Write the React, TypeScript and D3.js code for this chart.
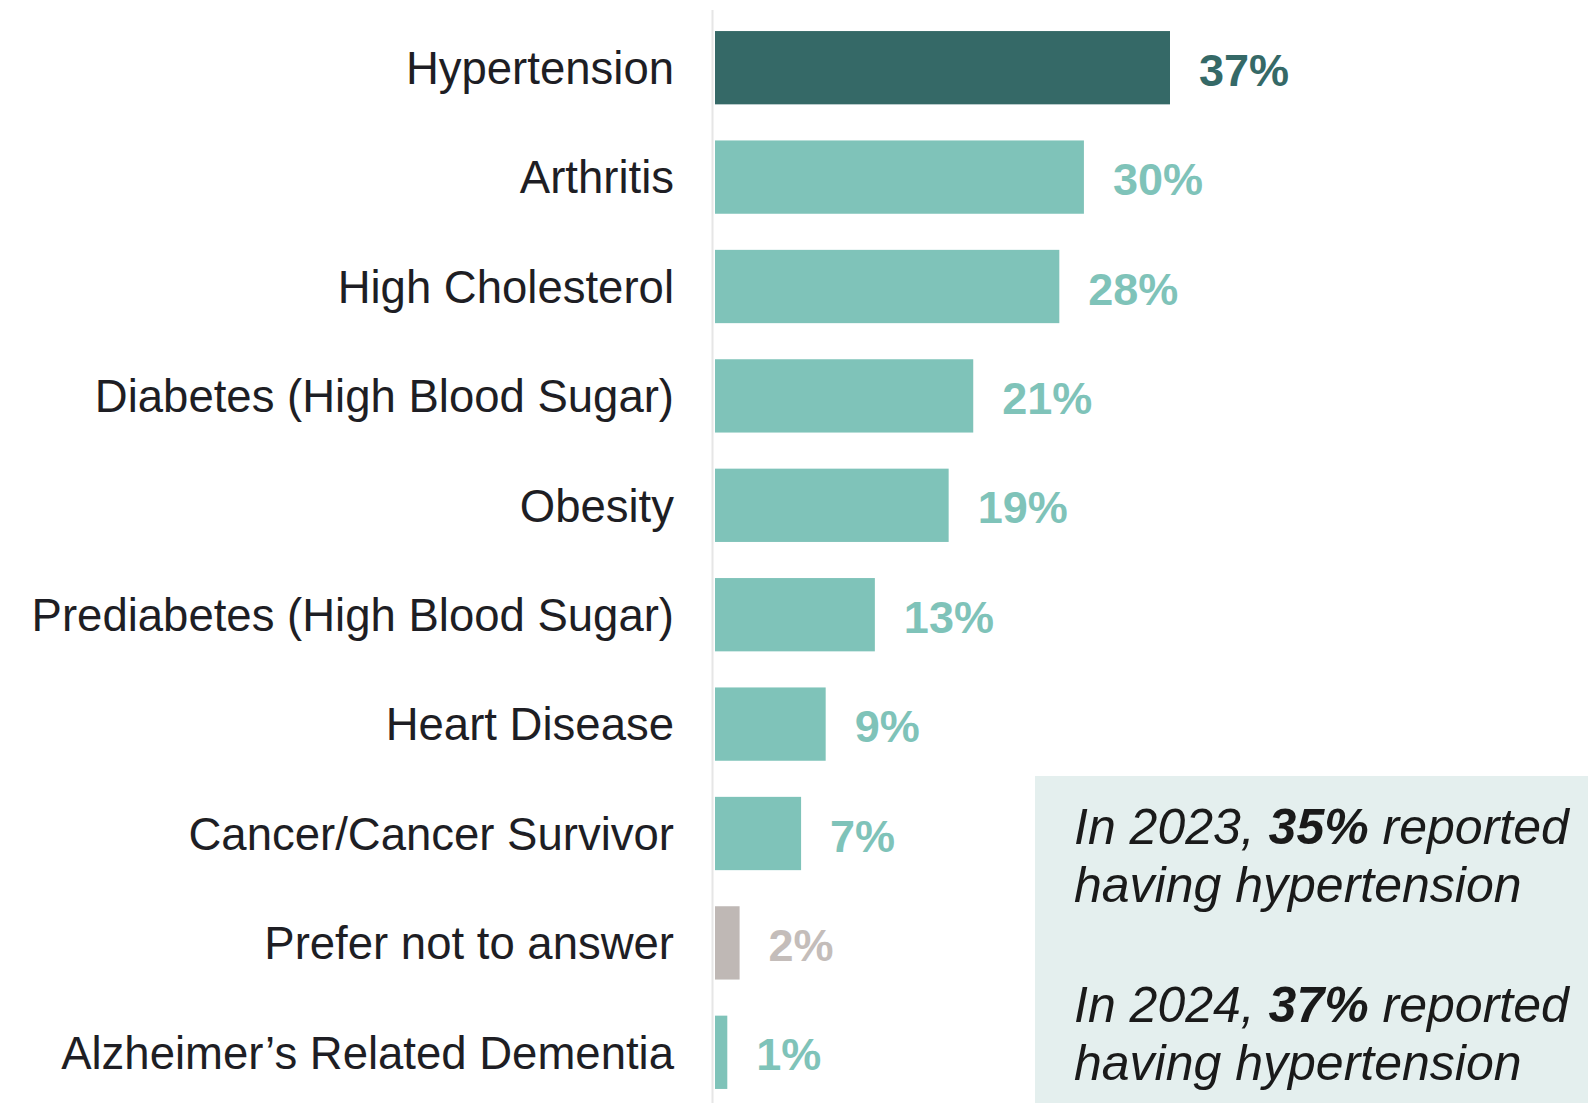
import React from "react";
import * as d3 from "d3";

const categories = [
  "Hypertension",
  "Arthritis",
  "High Cholesterol",
  "Diabetes (High Blood Sugar)",
  "Obesity",
  "Prediabetes (High Blood Sugar)",
  "Heart Disease",
  "Cancer/Cancer Survivor",
  "Prefer not to answer",
  "Alzheimer\u2019s Related Dementia",
];
const values = [37, 30, 28, 21, 19, 13, 9, 7, 2, 1];
const barKinds = ["highlight", "base", "base", "base", "base", "base", "base", "base", "neutral", "base"];

const noteLines = [
  { pre: "In 2023, ", bold: "35%", post: " reported" },
  { pre: "having hypertension", bold: "", post: "" },
  { pre: "In 2024, ", bold: "37%", post: " reported" },
  { pre: "having hypertension", bold: "", post: "" },
];

const W = 1588;
const H = 1103;
const FONT = "'Liberation Sans', Arial, Helvetica, sans-serif";

const fillFor: Record<string, string> = {
  highlight: "#356967",
  base: "#7fc3b9",
  neutral: "#bfb8b5",
};
const textFor: Record<string, string> = {
  highlight: "#356967",
  base: "#7fc3b9",
  neutral: "#c4bdba",
};

export default function App() {
  const x = d3.scaleLinear().domain([0, 37]).range([715, 1170]);
  const y = d3
    .scaleBand<string>()
    .domain(categories)
    .range([13, 1107])
    .paddingInner(0.33)
    .paddingOuter(0.165);
  const bw = y.bandwidth();

  const noteBaselines = [844, 902, 1022, 1080];

  return (
    <svg
      width={W}
      height={H}
      style={{ position: "absolute", left: 0, top: 0, background: "#fff" }}
      fontFamily={FONT}
    >
      <rect x={0} y={0} width={W} height={H} fill="#ffffff" />
      {/* annotation box */}
      <rect x={1035} y={776} width={W - 1035} height={H - 776} fill="#e4efee" />
      {/* axis line */}
      <line x1={712.5} x2={712.5} y1={10} y2={H} stroke="#e6e6e6" strokeWidth={2} />
      {categories.map((c, i) => {
        const cy = (y(c) as number) + bw / 2;
        const kind = barKinds[i];
        return (
          <g key={c}>
            <rect
              x={x(0)}
              y={y(c) as number}
              width={x(values[i]) - x(0)}
              height={bw}
              fill={fillFor[kind]}
            />
            <text
              x={674}
              y={cy}
              dy="0.36em"
              textAnchor="end"
              fontSize={45.5}
              fill="#1e1e24"
            >
              {c}
            </text>
            <text
              x={x(values[i]) + 29}
              y={cy}
              dy="0.4em"
              fontSize={45}
              fontWeight="bold"
              fill={textFor[kind]}
            >
              {values[i] + "%"}
            </text>
          </g>
        );
      })}
      {noteLines.map((l, i) => (
        <text
          key={i}
          x={1074}
          y={noteBaselines[i]}
          fontSize={50}
          fontStyle="italic"
          fill="#1a1a1a"
        >
          {l.pre}
          {l.bold ? <tspan fontWeight="bold">{l.bold}</tspan> : null}
          {l.post}
        </text>
      ))}
    </svg>
  );
}
